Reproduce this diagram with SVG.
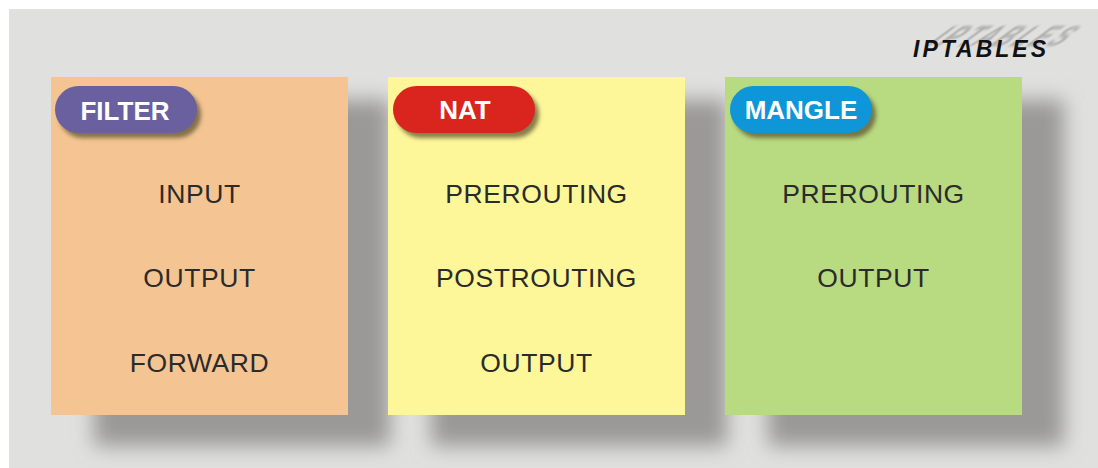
<svg xmlns="http://www.w3.org/2000/svg" width="1098" height="468" viewBox="0 0 1098 468">
<defs>
<filter id="boxShadow" x="-30%" y="-30%" width="160%" height="160%"><feGaussianBlur stdDeviation="10"/></filter>
<filter id="pillShadow" x="-20%" y="-50%" width="140%" height="200%"><feGaussianBlur stdDeviation="2"/></filter>
<filter id="ghostBlur" x="-20%" y="-50%" width="140%" height="200%"><feGaussianBlur stdDeviation="1.2"/></filter>
<style>
.shadow{fill:#9a9997;filter:url(#boxShadow)}
.pillsh{fill:#5e5530;opacity:0.75;filter:url(#pillShadow)}
.pilltxt{font-family:"Liberation Sans",Arial,sans-serif;font-weight:bold;font-size:26px;fill:#ffffff;text-anchor:middle}
.item{font-family:"Liberation Sans",Arial,sans-serif;font-size:26.5px;fill:#2b2b2b;text-anchor:middle;letter-spacing:0.6px}
.title{font-family:"Liberation Sans",Arial,sans-serif;font-weight:bold;font-style:italic;font-size:23px;letter-spacing:3px}
</style>
</defs>
<rect x="0" y="0" width="1098" height="468" fill="#ffffff"/>
<rect x="9" y="9" width="1089" height="459" fill="#e0e0df"/>

<g id="iptables-title">
<text class="title" x="0" y="0" fill="#a3a3a3" opacity="0.85" filter="url(#ghostBlur)" transform="translate(926,46) skewX(-50) scale(1,1.25)">IPTABLES</text>
<text class="title" x="913" y="57" fill="#111111">IPTABLES</text>
</g>

<g id="shadows">
<rect class="shadow" x="94" y="100" width="296" height="346"/>
<rect class="shadow" x="431" y="100" width="296" height="346"/>
<rect class="shadow" x="768" y="100" width="296" height="346"/>
</g>

<g id="filter-table">
<rect x="51" y="77" width="297" height="338" fill="#f4c592"/>
<rect class="pillsh" x="59" y="91" width="142" height="47" rx="23.5"/>
<rect x="55" y="86" width="142" height="47" rx="23.5" fill="#6a5f9f"/>
<text class="pilltxt" x="125" y="120" font-size="27">FILTER</text>
<text class="item" x="199.5" y="203">INPUT</text>
<text class="item" x="199.5" y="287">OUTPUT</text>
<text class="item" x="199.5" y="372">FORWARD</text>
</g>

<g id="nat-table">
<rect x="388" y="77" width="297" height="338" fill="#fdf799"/>
<rect class="pillsh" x="397" y="91" width="142" height="47" rx="23.5"/>
<rect x="393" y="86" width="142" height="47" rx="23.5" fill="#d9251e"/>
<text class="pilltxt" x="465" y="119">NAT</text>
<text class="item" x="536.5" y="203">PREROUTING</text>
<text class="item" x="536.5" y="287">POSTROUTING</text>
<text class="item" x="536.5" y="372">OUTPUT</text>
</g>

<g id="mangle-table">
<rect x="725" y="77" width="297" height="338" fill="#b8da80"/>
<rect class="pillsh" x="734" y="91" width="142" height="47" rx="23.5"/>
<rect x="730" y="86" width="142" height="47" rx="23.5" fill="#0e96d8"/>
<text class="pilltxt" x="801" y="119">MANGLE</text>
<text class="item" x="873.5" y="203">PREROUTING</text>
<text class="item" x="873.5" y="287">OUTPUT</text>
</g>
</svg>
